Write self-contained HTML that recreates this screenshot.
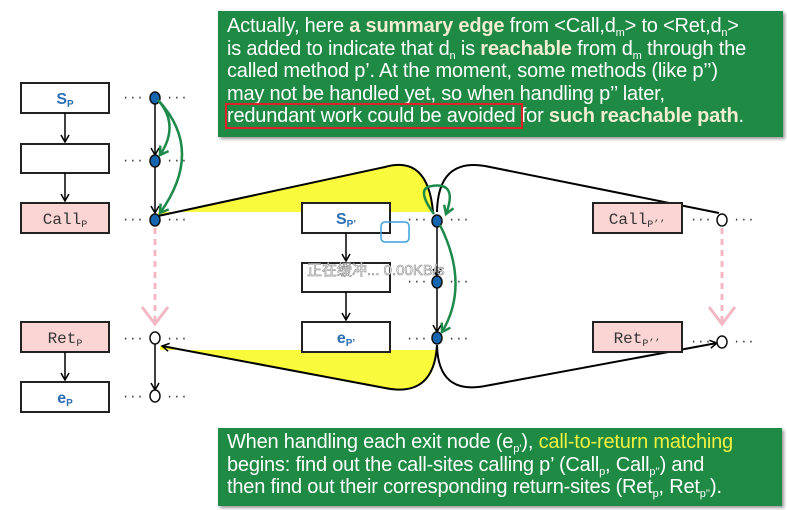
<!DOCTYPE html>
<html><head><meta charset="utf-8"><style>
body{margin:0;background:#fff;width:787px;height:510px;overflow:hidden;font-family:"Liberation Sans",sans-serif}
.g{position:absolute;background:#1e8a44;color:#fff;font-size:20px;line-height:22.5px;box-shadow:2px 2px 3px #999;white-space:nowrap;letter-spacing:-0.2px}
b{color:#f2ecd0}
sub{font-size:11px;line-height:0;vertical-align:-4px}
</style></head><body>
<svg width="787" height="510" style="position:absolute;left:0;top:0" font-family="Liberation Mono,monospace">
<defs>
<marker id="a" markerWidth="10" markerHeight="10" refX="8" refY="5" orient="auto" markerUnits="userSpaceOnUse"><path d="M1,1 L8,5 L1,9" fill="none" stroke="#000" stroke-width="1.5"/></marker>
<marker id="ga" markerWidth="12" markerHeight="12" refX="9" refY="6" orient="auto" markerUnits="userSpaceOnUse"><path d="M1,1 L9,6 L1,11" fill="none" stroke="#1e8a4a" stroke-width="2.5"/></marker>
</defs>
<path d="M158,216 L385,167 Q428,155 433,212 L158,212 Z" fill="#fafa3c"/>
<path d="M158,216 L385,167 Q428,155 433,212" fill="none" stroke="#000" stroke-width="2"/>
<path d="M437,350 L160,350 L160,346 L385,388 Q434,398 437,350 Z" fill="#fafa3c"/>
<path d="M437,345 Q434,398 385,388 L162,346" fill="none" stroke="#000" stroke-width="2" marker-end="url(#a)"/>
<path d="M437,212 Q438,158 485,166 L719,213" fill="none" stroke="#000" stroke-width="2"/>
<path d="M437,345 Q438,395 485,386 L717,343" fill="none" stroke="#000" stroke-width="2" marker-end="url(#a)"/>
<g stroke="#222" stroke-width="2">
<rect x="21" y="83" width="88" height="30" fill="#fff"/>
<rect x="21" y="144" width="88" height="29" fill="#fff"/>
<rect x="21" y="203" width="88" height="30" fill="#fbd5d3"/>
<rect x="21" y="322" width="88" height="30" fill="#fbd5d3"/>
<rect x="21" y="382" width="88" height="30" fill="#fff"/>
<rect x="302" y="203" width="88" height="30" fill="#fff"/>
<rect x="302" y="263" width="88" height="29" fill="#fff"/>
<rect x="302" y="322" width="88" height="30" fill="#fff"/>
<rect x="593" y="203" width="89" height="30" fill="#fbd5d3"/>
<rect x="593" y="322" width="89" height="30" fill="#fbd5d3"/>
</g>
<g stroke="#000" stroke-width="1.5" marker-end="url(#a)">
<line x1="65" y1="113" x2="65" y2="142"/><line x1="65" y1="173" x2="65" y2="201"/><line x1="65" y1="352" x2="65" y2="380"/>
<line x1="346" y1="233" x2="346" y2="261"/><line x1="346" y1="292" x2="346" y2="320"/>
<line x1="155" y1="103" x2="155" y2="155"/><line x1="155" y1="166" x2="155" y2="213"/><line x1="155" y1="343" x2="155" y2="390"/>
<line x1="437" y1="226" x2="437" y2="276"/><line x1="437" y1="287" x2="437" y2="332"/>
</g>
<g font-size="16" text-anchor="middle">
<text x="65" y="104" fill="#2a6fb5" font-family="Liberation Sans" font-weight="bold">S<tspan font-size="10" dy="3">P</tspan></text>
<text x="65" y="224" fill="#333">Call<tspan font-size="10" dy="3">P</tspan></text>
<text x="65" y="343" fill="#333">Ret<tspan font-size="10" dy="3">P</tspan></text>
<text x="65" y="403" fill="#2a6fb5" font-family="Liberation Sans" font-weight="bold">e<tspan font-size="10" dy="3">P</tspan></text>
<text x="346" y="224" fill="#2a6fb5" font-family="Liberation Sans" font-weight="bold">S<tspan font-size="10" dy="3">P’</tspan></text>
<text x="346" y="343" fill="#2a6fb5" font-family="Liberation Sans" font-weight="bold">e<tspan font-size="10" dy="3">P’</tspan></text>
<text x="637" y="224" fill="#333">Call<tspan font-size="10" dy="3">P’’</tspan></text>
<text x="637" y="343" fill="#333">Ret<tspan font-size="10" dy="3">P’’</tspan></text>
</g>
<g fill="#333" font-size="12">
<text x="122" y="101">···</text><text x="166" y="101">···</text>
<text x="122" y="164">···</text><text x="166" y="164">···</text>
<text x="122" y="223">···</text><text x="166" y="223">···</text>
<text x="122" y="342">···</text><text x="166" y="342">···</text>
<text x="122" y="400">···</text><text x="166" y="400">···</text>
<text x="406" y="223">···</text><text x="448" y="223">···</text>
<text x="406" y="285">···</text><text x="448" y="285">···</text>
<text x="406" y="342">···</text><text x="448" y="342">···</text>
<text x="690" y="223">···</text><text x="733" y="223">···</text>
<text x="690" y="345">···</text><text x="733" y="345">···</text>
</g>
<g stroke="#f4b8c4" stroke-width="3" fill="none">
<line x1="155" y1="228" x2="155" y2="322" stroke-dasharray="6,5"/><path d="M142,307 L155,324 L168,307"/>
<line x1="722" y1="228" x2="722" y2="322" stroke-dasharray="6,5"/><path d="M709,307 L722,324 L735,307"/>
</g>
<g stroke="#111" stroke-width="1.5">
<ellipse cx="155" cy="98" rx="5" ry="6" fill="#1565b0"/>
<ellipse cx="155" cy="161" rx="5" ry="6" fill="#1565b0"/>
<ellipse cx="155" cy="220" rx="5" ry="6" fill="#1565b0"/>
<ellipse cx="155" cy="338" rx="5" ry="6" fill="#fff"/>
<ellipse cx="155" cy="396" rx="5" ry="6" fill="#fff"/>
<ellipse cx="437" cy="221" rx="5" ry="6" fill="#1565b0"/>
<ellipse cx="437" cy="282" rx="5" ry="6" fill="#1565b0"/>
<ellipse cx="437" cy="338" rx="5" ry="6" fill="#1565b0"/>
<ellipse cx="722" cy="220" rx="5" ry="6" fill="#fff"/>
<ellipse cx="722" cy="342" rx="5" ry="6" fill="#fff"/>
</g>
<g stroke="#1e8a4a" stroke-width="2.5" fill="none" marker-end="url(#ga)">
<path d="M158,100 Q180,125 160,155"/>
<path d="M158,100 Q205,150 160,213"/>
<path d="M434,214 Q415,188 432,186 Q458,182 446,214"/>
<path d="M440,225 Q470,285 442,332"/>
</g>
<rect x="381" y="222" width="28" height="20" rx="4" fill="none" stroke="#3aa0e0" stroke-width="1.5"/>
<text x="307" y="275" font-family="Liberation Sans,Noto Sans CJK SC,sans-serif" font-size="15" fill="#fff" stroke="#888" stroke-width="0.6">正在缓冲... 0.00KB/s</text>
</svg>
<div class="g" style="left:218px;top:11px;width:556px;height:116px;padding:4px 0 6px 9px">Actually, here <b>a summary edge</b> from &lt;Call,d<sub>m</sub>&gt; to &lt;Ret,d<sub>n</sub>&gt;<br>is added to indicate that d<sub>n</sub> is <b>reachable</b> from d<sub>m</sub> through the<br>called method p’. At the moment, some methods (like p’’)<br>may not be handled yet, so when handling p’’ later,<br><span style="outline:2px solid #e0202a">redundant work could be avoided </span>for <b>such reachable path</b>.</div>
<div class="g" style="left:218px;top:428px;width:555px;height:71px;padding:3px 0 4px 9px">When handling each exit node (e<sub>p’</sub>), <span style="color:#f0f040">call-to-return matching</span><br>begins: find out the call-sites calling p’ (Call<sub>p</sub>, Call<sub>p’’</sub>) and<br>then find out their corresponding return-sites (Ret<sub>p</sub>, Ret<sub>p’’</sub>).</div>
</body></html>
